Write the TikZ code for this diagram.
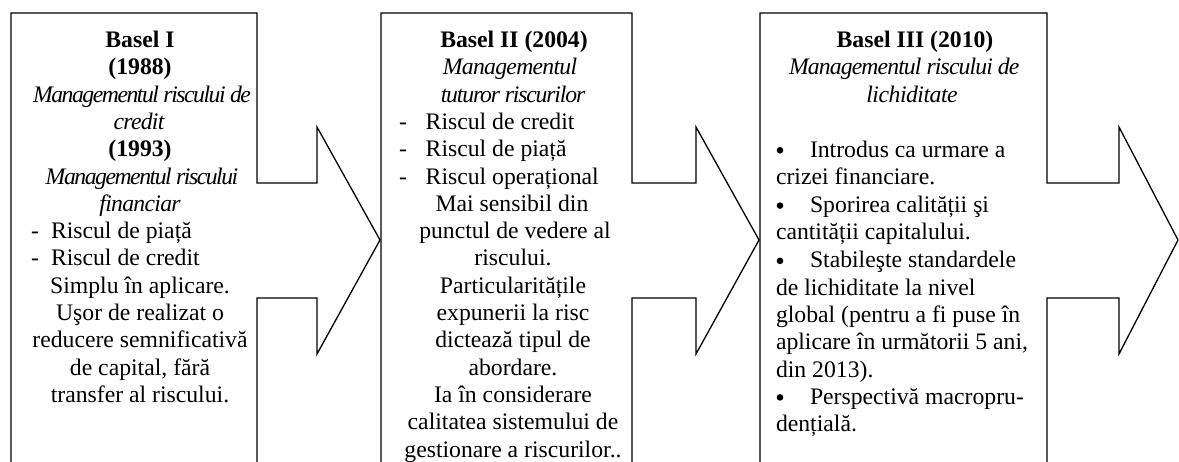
\documentclass[tikz,border=0pt]{standalone}
\usepackage{fontspec}
\setmainfont{Liberation Serif}
\newcommand\bodyfs{\fontsize{23.7}{27.3}\selectfont}
\newcommand\itc[2]{{\itshape\addfontfeature{LetterSpace=#1}#2}}
\begin{document}
\begin{tikzpicture}[x=1pt,y=-1pt,
  callout/.style={draw, line width=1.3pt, line join=miter},
  ctr/.style={anchor=base, inner sep=0pt, outer sep=0pt, font=\bodyfs},
  lft/.style={anchor=base west, inner sep=0pt, outer sep=0pt, font=\bodyfs},
  bul/.style={circle, fill=black, inner sep=0pt, minimum size=6.6pt}]
\useasboundingbox (0,0) rectangle (1179,461);
\fill[white] (0,0) rectangle (1179,461);
\begin{scope}
\clip (0,0) rectangle (1179,461);
\draw[callout] (11,475) -- (11,13) -- (257,13) -- (257,183) -- (317,183) -- (317,127)
  -- (380,240) -- (317,354) -- (317,298) -- (257,298) -- (257,475);
\draw[callout] (381,475) -- (381,13) -- (632,13) -- (632,183) -- (696,183) -- (696,127)
  -- (759,240) -- (696,354) -- (696,298) -- (632,298) -- (632,475);
\draw[callout] (760,475) -- (760,13) -- (1047,13) -- (1047,183) -- (1119,183) -- (1119,127)
  -- (1178,240) -- (1119,354) -- (1119,298) -- (1047,298) -- (1047,475);
\end{scope}
% Box 1
\node[ctr] (a0) at (140,47.5) {\textbf{Basel I}};
\node[ctr] (a1) at (140,74.8) {\textbf{(1988)}};
\node[ctr] (a2) at (142,102.1) {\itc{-6.2}{Managementul riscului de}};
\node[ctr] (a3) at (139,129.4) {\itc{-3}{credit}};
\node[ctr] (a4) at (140,156.7) {\textbf{(1993)}};
\node[ctr] (a5) at (142,184.0) {\itc{-6.2}{Managementul riscului}};
\node[ctr] (a6) at (140,211.3) {\itc{-3}{financiar}};
\node[lft] (a7d) at (31,238.6) {-};
\node[lft] (a7) at (51,238.6) {Riscul de piață};
\node[lft] (a8d) at (31,265.9) {-};
\node[lft] (a8) at (51,265.9) {Riscul de credit};
\node[ctr] (a9) at (140,293.2) {Simplu în aplicare.};
\node[ctr] (a10) at (140,320.5) {Uşor de realizat o};
\node[ctr] (a11) at (140,347.8) {reducere semnificativă};
\node[ctr] (a12) at (140,375.1) {de capital, fără};
\node[ctr] (a13) at (140,402.4) {transfer al riscului.};
% Box 2
\node[ctr] (b0) at (514,47.5) {\textbf{Basel II (2004)}};
\node[ctr] (b1) at (510,74.8) {\itc{-3}{Managementul}};
\node[ctr] (b2) at (513,102.1) {\itc{-4.9}{tuturor riscurilor}};
\node[lft] (b3d) at (399,129.4) {-};
\node[lft] (b3) at (425.7,129.4) {Riscul de credit};
\node[lft] (b4d) at (399,156.7) {-};
\node[lft] (b4) at (425.7,156.7) {Riscul de piață};
\node[lft] (b5d) at (399,184.0) {-};
\node[lft] (b5) at (425.7,184.0) {Riscul operațional};
\node[ctr] (b6) at (512,211.3) {Mai sensibil din};
\node[ctr] (b7) at (515,238.6) {punctul de vedere al};
\node[ctr] (b8) at (513,265.9) {riscului.};
\node[ctr] (b9) at (513,293.2) {Particularitățile};
\node[ctr] (b10) at (513,320.5) {expunerii la risc};
\node[ctr] (b11) at (513,347.8) {dictează tipul de};
\node[ctr] (b12) at (513,375.1) {abordare.};
\node[ctr] (b13) at (513,402.4) {Ia în considerare};
\node[ctr] (b14) at (513,429.7) {calitatea sistemului de};
\node[ctr] (b15) at (513,457.0) {gestionare a riscurilor..};
% Box 3
\node[ctr] (c0) at (915,47.5) {\textbf{Basel III (2010)}};
\node[lft] (c1) at (789,74.8) {\itc{-3.7}{Managementul riscului de}};
\node[ctr] (c2) at (912,102.1) {\itc{-2}{lichiditate}};
\node[bul] (c4b) at (780,150.3) {};
\node[lft] (c4) at (810,157.3) {Introdus ca urmare a};
\node[lft] (c5) at (776,184.6) {crizei financiare.};
\node[bul] (c6b) at (780,205.6) {};
\node[lft] (c6) at (810,212.6) {Sporirea calității şi};
\node[lft] (c7) at (776,239.9) {cantității capitalului.};
\node[bul] (c8b) at (780,260.9) {};
\node[lft] (c8) at (810,267.9) {Stabileşte standardele};
\node[lft] (c9) at (776,295.2) {de lichiditate la nivel};
\node[lft] (c10) at (776,322.5) {global (pentru a fi puse în};
\node[lft] (c11) at (776,349.8) {aplicare în următorii 5 ani,};
\node[lft] (c12) at (776,377.1) {din 2013).};
\node[bul] (c13b) at (780,397.4) {};
\node[lft] (c13) at (810,404.4) {Perspectivă macropru-};
\node[lft] (c14) at (776,431.7) {dențială.};
\end{tikzpicture}
\end{document}
